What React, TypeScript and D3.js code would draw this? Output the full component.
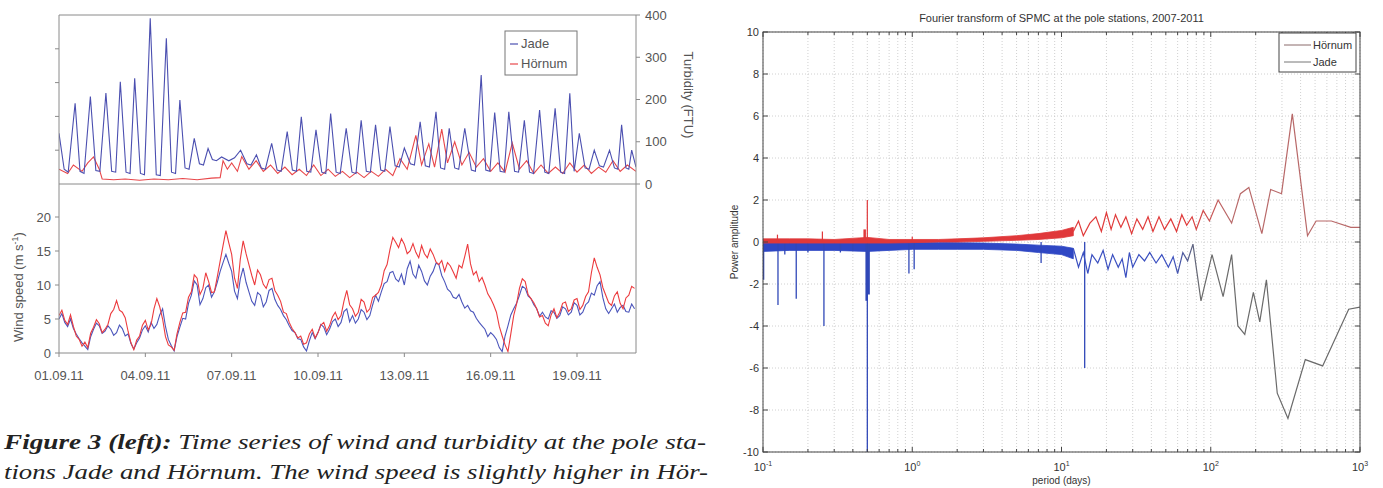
import React from "react";
import * as d3 from "d3";

// ---------- Left figure data (time series, Sept 2011) ----------
const windStepDays = 0.1;
const hornumWind = [
  5.5, 6.3, 4.8, 4.2, 5.6, 3.9, 2.5, 2.0, 1.0, 1.6, 0.8, 2.9, 3.8, 4.9, 4.3, 3.0, 3.5, 4.2, 5.8, 6.4,
  7.7, 6.3, 6.0, 5.2, 3.2, 1.5, 0.5, 1.9, 2.5, 4.1, 4.8, 3.4, 4.2, 6.5, 8.0, 6.8, 5.0, 2.4, 1.2, 0.9,
  0.4, 2.8, 4.5, 5.9, 6.0, 8.2, 9.0, 11.5, 11.0, 8.6, 9.5, 11.8, 10.5, 8.9, 9.0, 11.2, 13.5, 15.8, 18.0, 16.2,
  14.5, 11.0, 9.5, 13.8, 16.5, 14.6, 13.0, 11.4, 10.0, 12.2, 11.5, 10.1, 9.5, 10.8, 11.0, 9.2, 8.5, 7.6, 6.0, 5.8,
  4.5, 3.6, 3.0, 2.2, 2.5, 1.3, 1.5, 2.8, 3.5, 2.2, 3.0, 4.1, 4.5, 3.2, 4.0, 5.3, 6.0, 4.9, 5.5, 7.6,
  9.2, 7.1, 6.5, 5.4, 6.0, 7.9, 7.5, 6.0, 6.5, 8.2, 8.5, 8.9, 10.0, 12.1, 13.0, 15.2, 17.0, 16.3, 15.5, 16.8,
  16.0, 14.6, 15.0, 16.1, 14.8, 14.0, 15.8, 14.6, 14.0, 15.3, 14.5, 13.4, 13.0, 13.6, 12.0, 13.3, 12.8, 11.9, 11.0, 12.9,
  12.5, 14.2, 16.0, 13.1, 11.5, 12.0, 10.5, 11.1, 10.0, 8.7, 8.0, 7.1, 6.0, 3.9, 2.5, 1.2, 0.2, 2.8, 5.5, 7.2,
  9.5, 10.9, 10.5, 8.6, 8.0, 7.4, 6.5, 5.3, 5.5, 4.4, 4.0, 5.6, 6.5, 5.2, 6.0, 7.3, 7.5, 6.1, 6.5, 7.8,
  8.0, 6.4, 7.0, 8.3, 9.0, 11.8, 14.0, 12.6, 11.5, 9.6, 8.5, 7.4, 7.0, 8.4, 9.0, 7.3, 6.5, 8.1, 8.5, 9.8,
  9.5,
];
const jadeWind = [
  5.0, 5.8, 4.5, 3.9, 5.0, 3.6, 2.8, 2.1, 1.5, 1.0, 0.5, 2.4, 3.5, 4.4, 4.0, 2.9, 3.2, 4.0, 3.5, 2.6,
  3.0, 4.1, 3.6, 2.5, 2.8, 1.4, 0.6, 1.5, 2.2, 3.4, 4.0, 3.1, 4.5, 3.6, 4.2, 5.6, 6.5, 3.9, 2.0, 1.1,
  0.3, 2.4, 3.8, 5.1, 5.0, 7.3, 8.5, 10.6, 10.0, 7.1, 8.0, 9.6, 10.0, 8.2, 9.0, 10.4, 12.0, 13.3, 14.5, 13.2,
  12.0, 9.1, 8.0, 10.9, 12.5, 10.4, 9.0, 7.6, 7.0, 8.9, 8.5, 6.8, 7.5, 9.2, 9.5, 7.9, 7.0, 6.4, 5.5, 4.9,
  4.0, 3.3, 3.0, 2.1, 2.0, 0.9, 0.3, 1.8, 3.0, 2.1, 3.0, 4.2, 3.8, 2.7, 3.5, 4.6, 5.0, 3.9, 4.5, 6.1,
  6.5, 4.6, 5.5, 4.4, 5.0, 6.4, 6.0, 4.9, 5.5, 7.1, 8.5, 7.6, 9.0, 10.2, 10.5, 11.8, 12.0, 10.9, 10.5, 11.6,
  10.0, 12.4, 13.5, 11.6, 11.0, 12.9, 12.0, 10.6, 10.0, 11.3, 12.0, 13.2, 13.0, 11.4, 10.5, 9.4, 9.0, 8.2, 8.0, 8.6,
  7.5, 6.6, 7.0, 6.2, 6.0, 5.1, 4.5, 4.0, 3.5, 2.4, 3.0, 2.6, 2.0, 0.8, 0.2, 2.5, 4.0, 5.6, 6.5, 7.3,
  8.5, 9.8, 9.5, 8.4, 8.0, 7.1, 6.5, 5.4, 6.0, 5.3, 5.0, 6.2, 6.0, 5.1, 5.5, 6.8, 6.5, 5.6, 6.0, 7.4,
  7.0, 5.6, 6.0, 7.1, 7.5, 8.8, 8.5, 9.9, 10.5, 8.1, 6.5, 5.8, 6.5, 7.2, 6.0, 6.7, 7.0, 6.1, 6.0, 7.2,
  6.5,
];
// [day since 01.09.11, turbidity FTU]
const jadeTurbidity: [number, number][] = [
  [0, 120], [0.18, 35], [0.32, 28], [0.56, 191], [0.73, 30], [0.87, 25], [1.09, 207], [1.28, 32], [1.42, 30],
  [1.63, 215], [1.83, 30], [1.97, 28], [2.13, 242], [2.33, 28], [2.47, 25], [2.63, 250], [2.83, 25], [2.97, 22],
  [3.17, 392], [3.38, 22], [3.52, 20], [3.73, 345], [3.91, 28], [4.05, 25], [4.2, 199], [4.38, 38], [4.52, 35],
  [4.7, 108], [4.88, 48], [5.02, 45], [5.18, 84], [5.33, 58], [5.47, 55], [5.65, 64], [5.9, 55], [6.1, 62],
  [6.31, 80], [6.53, 48], [6.67, 45], [6.86, 69], [7.03, 38], [7.17, 35], [7.39, 96], [7.58, 33], [7.72, 30],
  [7.93, 124], [8.11, 33], [8.25, 30], [8.42, 159], [8.61, 30], [8.75, 28], [8.93, 128], [9.13, 28], [9.27, 25],
  [9.44, 167], [9.63, 28], [9.77, 25], [9.98, 132], [10.18, 28], [10.32, 25], [10.5, 151], [10.68, 30], [10.82, 28],
  [11.0, 140], [11.18, 33], [11.32, 30], [11.5, 136], [11.68, 43], [11.82, 40], [12.0, 85], [12.21, 48], [12.35, 45],
  [12.55, 147], [12.73, 43], [12.87, 40], [13.1, 171], [13.26, 38], [13.4, 35], [13.56, 132], [13.75, 38], [13.89, 35],
  [14.1, 132], [14.33, 33], [14.47, 30], [14.67, 258], [14.83, 33], [14.97, 30], [15.14, 169], [15.33, 30], [15.47, 28],
  [15.63, 171], [15.83, 30], [15.97, 28], [16.17, 151], [16.35, 28], [16.49, 25], [16.7, 175], [16.88, 28], [17.02, 25],
  [17.24, 179], [17.43, 28], [17.57, 25], [17.75, 215], [17.9, 30], [18.08, 120], [18.28, 38], [18.42, 35], [18.6, 80],
  [18.78, 43], [18.92, 40], [19.13, 80], [19.3, 38], [19.42, 35], [19.55, 140], [19.7, 38], [19.8, 35], [19.9, 80], [20.05, 40],
];
const hornumTurbidity: [number, number][] = [
  [0, 35], [0.3, 25], [0.5, 45], [0.8, 30], [1.0, 50], [1.2, 64], [1.4, 35], [1.5, 12], [1.9, 10],
  [2.3, 12], [2.8, 9], [3.3, 12], [3.8, 10], [4.3, 13], [4.8, 10], [5.3, 14], [5.6, 15], [5.7, 55],
  [5.85, 35], [6.0, 50], [6.2, 30], [6.35, 65], [6.6, 35], [6.85, 55], [7.1, 30], [7.35, 45], [7.6, 25],
  [7.85, 40], [8.1, 22], [8.35, 35], [8.6, 20], [8.85, 45], [9.1, 20], [9.35, 35], [9.6, 18], [9.85, 30],
  [10.1, 15], [10.35, 28], [10.6, 15], [10.85, 30], [11.1, 18], [11.35, 35], [11.6, 20], [11.85, 60],
  [12.1, 35], [12.4, 115], [12.6, 45], [12.85, 95], [13.05, 40], [13.3, 130], [13.5, 50], [13.75, 100],
  [14.0, 45], [14.25, 75], [14.5, 40], [14.75, 60], [15.0, 30], [15.25, 50], [15.5, 28], [15.75, 97],
  [16.0, 35], [16.25, 55], [16.5, 25], [16.75, 45], [17.0, 25], [17.25, 40], [17.5, 25], [17.75, 50],
  [18.0, 28], [18.25, 45], [18.5, 25], [18.75, 40], [19.0, 28], [19.25, 55], [19.5, 30], [19.75, 45], [20.05, 30],
];
const dateTickLabels = ["01.09.11", "04.09.11", "07.09.11", "10.09.11", "13.09.11", "16.09.11", "19.09.11"];
const dateTickStepDays = 3;
const turbidityTicks = [0, 100, 200, 300, 400];
const turbidityMinorLeftTicks = [80, 160, 240, 320];
const windTicks = [0, 5, 10, 15, 20];

// ---------- Right figure data (Fourier transform) ----------
const bandPeriods = [0.1, 0.15, 0.2, 0.3, 0.5, 0.7, 1, 1.5, 2, 3, 5, 7, 10, 12];
const hornumBandHi = [0.15, 0.15, 0.15, 0.12, 0.22, 0.12, 0.12, 0.12, 0.15, 0.2, 0.3, 0.4, 0.55, 0.7];
const hornumBandLo = [-0.05, -0.05, -0.05, -0.05, -0.05, -0.05, -0.03, 0, 0, 0.03, 0.08, 0.12, 0.2, 0.3];
const jadeBandHi = [0, 0, 0, 0, 0, 0, 0, -0.02, -0.03, -0.05, -0.1, -0.15, -0.2, -0.3];
const jadeBandLo = [-0.45, -0.4, -0.4, -0.4, -0.45, -0.4, -0.35, -0.35, -0.35, -0.35, -0.4, -0.5, -0.6, -0.8];
const hornumSpikes: [number, number][] = [[0.125, 0.35], [0.25, 0.5], [0.48, 0.6], [0.5, 2.0], [1.0, 0.25]];
const jadeSpikes: [number, number][] = [
  [0.101, -1.8], [0.126, -3.0], [0.14, -0.6], [0.167, -2.7], [0.2, -0.5], [0.256, -4.0], [0.33, -0.5],
  [0.4, -0.4], [0.495, -2.8], [0.5, -10], [0.51, -2.5], [0.95, -1.5], [1.03, -1.3], [7.3, -1.0], [14.3, -6.0],
];
const hornumLong: [number, number][] = [
  [12, 0.5], [13, 1.0], [14, 0.3], [15.5, 0.9], [17, 1.2], [18.5, 0.5], [20, 1.4], [21.5, 0.6], [23, 1.3],
  [25, 0.7], [27, 1.2], [29.5, 0.4], [32, 1.1], [35, 0.6], [38, 1.2], [41, 0.5], [45, 1.2], [49, 0.6],
  [54, 1.1], [59, 0.5], [64, 1.3], [69, 0.8], [75, 1.2], [80, 0.6], [89, 1.5], [98, 1.0], [112, 2.0],
  [138, 0.9], [158, 2.3], [180, 2.6], [220, 0.4], [252, 2.5], [298, 2.3], [352, 6.1], [445, 0.3],
  [508, 1.0], [643, 1.0], [868, 0.7], [1000, 0.7],
];
const jadeLong: [number, number][] = [
  [12, -0.3], [13, -1.2], [14, -0.5], [15, -1.5], [16, -0.6], [17.5, -1.0], [19, -0.4], [20.5, -1.3],
  [22, -0.6], [24, -1.2], [25.5, -0.8], [27, -1.7], [28.5, -0.5], [30, -1.2], [33, -0.6], [36, -0.9],
  [39, -0.5], [43, -1.0], [47, -0.6], [52, -1.2], [56, -0.7], [60, -1.5], [65, -0.5], [70, -0.9],
  [76, -0.1], [86, -2.8], [102, -0.6], [121, -2.6], [138, -0.6], [152, -4.0], [169, -4.4], [193, -2.4],
  [213, -3.8], [236, -1.8], [279, -7.2], [329, -8.4], [430, -5.6], [562, -5.9], [840, -3.2], [1000, -3.1],
];
const amplitudeTicks = [-10, -8, -6, -4, -2, 0, 2, 4, 6, 8, 10];
const periodDecades = [-1, 0, 1, 2, 3];

const SANS = "'Liberation Sans', Arial, sans-serif";
const SERIF = "'Liberation Serif', 'Times New Roman', serif";

export default function App() {
  // ----- left scales -----
  const xL = d3.scaleLinear().domain([0, 20.05]).range([59, 636]);
  const yT = d3.scaleLinear().domain([0, 400]).range([184, 15]);
  const yW = d3.scaleLinear().domain([0, 25]).range([353, 183]);
  const turbLine = d3.line<[number, number]>().x((d) => xL(d[0])).y((d) => yT(d[1]));
  const windLine = d3.line<number>().x((_, i) => xL(i * windStepDays)).y((d) => yW(d));
  const [lx0, lx1] = xL.range();

  // ----- right scales -----
  const xR = d3.scaleLog().domain([0.1, 1000]).range([763, 1360]);
  const yR = d3.scaleLinear().domain([-10, 10]).range([452, 32]);
  const [rx0, rx1] = xR.range();
  const [ry0, ry1] = yR.range();
  const bandIdx = d3.range(bandPeriods.length);
  const hornumArea = d3.area<number>().x((i) => xR(bandPeriods[i])).y0((i) => yR(hornumBandLo[i])).y1((i) => yR(hornumBandHi[i]));
  const jadeArea = d3.area<number>().x((i) => xR(bandPeriods[i])).y0((i) => yR(jadeBandLo[i])).y1((i) => yR(jadeBandHi[i]));
  const fLine = d3.line<[number, number]>().x((d) => xR(d[0])).y((d) => yR(d[1]));
  const minorPeriods: number[] = [];
  for (let k = -1; k < 3; k++) for (let m = 1; m <= 9; m++) minorPeriods.push(m * Math.pow(10, k));
  minorPeriods.push(1000);

  const gray = "#8a8a8a";
  const txt = "#555";

  return (
    <svg width={1383} height={488} style={{ position: "fixed", left: 0, top: 0, background: "#fff" }} fontFamily={SANS}>
      <defs>
        <clipPath id="clipTop"><rect x={lx0} y={15} width={lx1 - lx0} height={169} /></clipPath>
        <clipPath id="clipBot"><rect x={lx0} y={184} width={lx1 - lx0} height={170} /></clipPath>
        <clipPath id="clipR"><rect x={rx0} y={ry1} width={rx1 - rx0} height={ry0 - ry1} /></clipPath>
        <linearGradient id="jadeGrad" gradientUnits="userSpaceOnUse" x1={xR(55)} x2={xR(85)} y1={0} y2={0}>
          <stop offset="0" stopColor="#3a4fc0" />
          <stop offset="1" stopColor="#6a6a6a" />
        </linearGradient>
        <linearGradient id="hornGrad" gradientUnits="userSpaceOnUse" x1={xR(70)} x2={xR(130)} y1={0} y2={0}>
          <stop offset="0" stopColor="#e03a3a" />
          <stop offset="1" stopColor="#b86868" />
        </linearGradient>
      </defs>

      {/* ================= LEFT FIGURE ================= */}
      <g clipPath="url(#clipTop)" fill="none">
        <path d={turbLine(hornumTurbidity) || ""} stroke="#e8474a" strokeWidth={1.1} />
        <path d={turbLine(jadeTurbidity) || ""} stroke="#4b4fb0" strokeWidth={1.1} />
      </g>
      <g clipPath="url(#clipBot)" fill="none">
        <path d={windLine(jadeWind) || ""} stroke="#4b55bb" strokeWidth={1.1} />
        <path d={windLine(hornumWind) || ""} stroke="#ec3b3e" strokeWidth={1.1} />
      </g>
      {/* frame */}
      <g stroke={gray} strokeWidth={1} fill="none">
        <line x1={lx0} x2={lx1} y1={15} y2={15} />
        <line x1={lx0} x2={lx1} y1={184} y2={184} />
        <line x1={lx0} x2={lx1} y1={353} y2={353} />
        <line x1={lx0} x2={lx0} y1={15} y2={353} />
        <line x1={lx1} x2={lx1} y1={15} y2={353} />
        {turbidityMinorLeftTicks.map((v) => <line key={"lt" + v} x1={lx0 - 4} x2={lx0} y1={yT(v)} y2={yT(v)} />)}
        {windTicks.map((v) => <line key={"wt" + v} x1={lx0 - 4} x2={lx0} y1={yW(v)} y2={yW(v)} />)}
        {turbidityTicks.map((v) => <line key={"rt" + v} x1={lx1} x2={lx1 + 4} y1={yT(v)} y2={yT(v)} />)}
        {dateTickLabels.map((_, i) => (
          <line key={"dt" + i} x1={xL(i * dateTickStepDays)} x2={xL(i * dateTickStepDays)} y1={353} y2={357} />
        ))}
      </g>
      {windTicks.map((v) => (
        <text key={"wl" + v} x={lx0 - 8} y={yW(v)} dy="0.35em" textAnchor="end" fontSize={13} fill={txt}>{v}</text>
      ))}
      {turbidityTicks.map((v) => (
        <text key={"tl" + v} x={lx1 + 9} y={yT(v)} dy="0.35em" fontSize={13} fill={txt}>{v}</text>
      ))}
      {dateTickLabels.map((lab, i) => (
        <text key={"dl" + i} x={xL(i * dateTickStepDays)} y={380} textAnchor="middle" fontSize={13} fill={txt}>{lab}</text>
      ))}
      <text transform="translate(684,95) rotate(90)" textAnchor="middle" fontSize={13} fill={txt}>Turbidity (FTU)</text>
      <text transform="translate(23,287) rotate(-90)" textAnchor="middle" fontSize={13} fill={txt}>
        Wind speed (m s<tspan dy="-5" fontSize={9}>-1</tspan><tspan dy="5">)</tspan>
      </text>
      {/* left legend */}
      <rect x={505} y={31} width={72} height={44} fill="#fff" stroke="#777" strokeWidth={1} />
      <line x1={510} x2={518} y1={44} y2={44} stroke="#4b4fb0" strokeWidth={1.2} />
      <text x={521} y={48} fontSize={13} fill={txt}>Jade</text>
      <line x1={510} x2={518} y1={64} y2={64} stroke="#e8474a" strokeWidth={1.2} />
      <text x={521} y={68} fontSize={13} fill={txt}>Hörnum</text>

      {/* caption */}
      <text x={4} y={449} fontFamily={SERIF} fontStyle="italic" fontSize={22} fill="#222"
        textLength={702} lengthAdjust="spacingAndGlyphs">
        <tspan fontWeight="bold">Figure 3 (left):</tspan> Time series of wind and turbidity at the pole sta-
      </text>
      <text x={4} y={479} fontFamily={SERIF} fontStyle="italic" fontSize={22} fill="#222"
        textLength={704} lengthAdjust="spacingAndGlyphs">
        tions Jade and Hörnum. The wind speed is slightly higher in Hör-
      </text>

      {/* ================= RIGHT FIGURE ================= */}
      <g stroke="#c4c4c4" strokeWidth={0.8} strokeDasharray="1,2">
        {minorPeriods.map((p) => <line key={"vg" + p} x1={xR(p)} x2={xR(p)} y1={ry1} y2={ry0} />)}
        {amplitudeTicks.map((v) => <line key={"hg" + v} x1={rx0} x2={rx1} y1={yR(v)} y2={yR(v)} />)}
      </g>
      <g clipPath="url(#clipR)" fill="none">
        <path d={jadeArea(bandIdx) || ""} fill="#2f47c4" stroke="#2f47c4" strokeWidth={0.8} />
        {jadeSpikes.map(([p, v], i) => (
          <line key={"js" + i} x1={xR(p)} x2={xR(p)} y1={yR(0)} y2={yR(v)} stroke="#3048b8" strokeWidth={i === 8 || i === 10 ? 2.5 : 1.3} />
        ))}
        <path d={fLine(jadeLong) || ""} stroke="url(#jadeGrad)" strokeWidth={1.2} />
        <path d={hornumArea(bandIdx) || ""} fill="#e0383a" stroke="#e0383a" strokeWidth={0.8} />
        {hornumSpikes.map(([p, v], i) => (
          <line key={"hs" + i} x1={xR(p)} x2={xR(p)} y1={yR(0)} y2={yR(v)} stroke="#e0383a" strokeWidth={i === 2 ? 2.5 : 1.2} />
        ))}
        <path d={fLine(hornumLong) || ""} stroke="url(#hornGrad)" strokeWidth={1.2} />
      </g>
      <g stroke="#444" strokeWidth={1} fill="none">
        <rect x={rx0} y={ry1} width={rx1 - rx0} height={ry0 - ry1} />
        {minorPeriods.map((p) => {
          const major = Math.abs(Math.log10(p) - Math.round(Math.log10(p))) < 1e-9;
          const len = major ? 5 : 3;
          return (
            <g key={"xt" + p}>
              <line x1={xR(p)} x2={xR(p)} y1={ry0} y2={ry0 - len} />
              <line x1={xR(p)} x2={xR(p)} y1={ry1} y2={ry1 + len} />
            </g>
          );
        })}
        {amplitudeTicks.map((v) => (
          <g key={"yt" + v}>
            <line x1={rx0} x2={rx0 + 5} y1={yR(v)} y2={yR(v)} />
            <line x1={rx1} x2={rx1 - 5} y1={yR(v)} y2={yR(v)} />
          </g>
        ))}
      </g>
      {amplitudeTicks.map((v) => (
        <text key={"al" + v} x={rx0 - 4} y={yR(v)} dy="0.35em" textAnchor="end" fontSize={11} fill="#333">{v}</text>
      ))}
      {periodDecades.map((e) => (
        <text key={"pl" + e} x={xR(Math.pow(10, e))} y={471} textAnchor="middle" fontSize={11} fill="#333">
          10<tspan dy="-5" fontSize={7}>{e}</tspan>
        </text>
      ))}
      <text x={(rx0 + rx1) / 2} y={484} textAnchor="middle" fontSize={10} fill="#333">period (days)</text>
      <text transform="translate(738,242) rotate(-90)" textAnchor="middle" fontSize={10} fill="#333">Power amplitude</text>
      <text x={(rx0 + rx1) / 2} y={22} textAnchor="middle" fontSize={11} fill="#333">
        Fourier transform of SPMC at the pole stations, 2007-2011
      </text>
      <rect x={1279} y={33} width={77} height={39} fill="#fff" stroke="#444" strokeWidth={1} />
      <line x1={1284} x2={1311} y1={45} y2={45} stroke="#8a6a6a" strokeWidth={1} />
      <text x={1313} y={49} fontSize={11} fill="#333">Hörnum</text>
      <line x1={1284} x2={1311} y1={62} y2={62} stroke="#777" strokeWidth={1} />
      <text x={1313} y={66} fontSize={11} fill="#333">Jade</text>
    </svg>
  );
}
